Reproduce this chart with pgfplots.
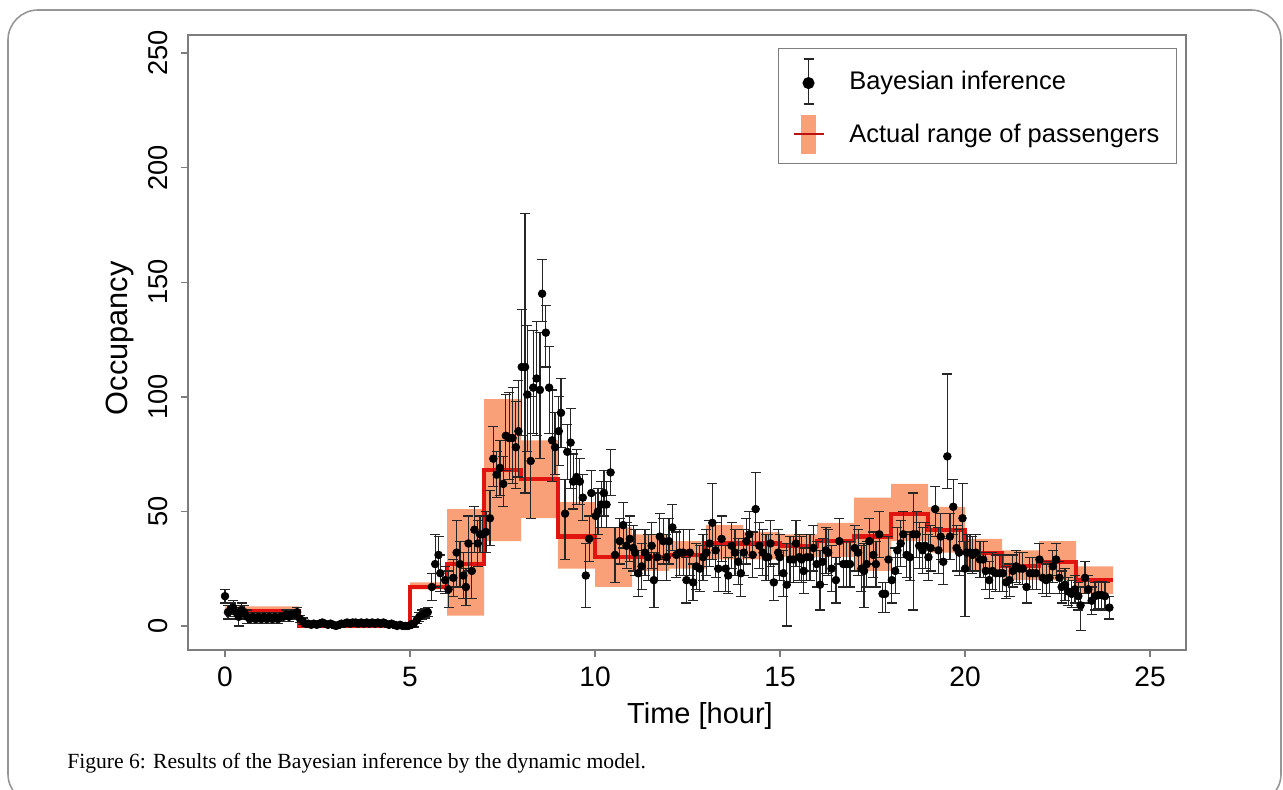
\documentclass[border=0pt]{standalone}
\usepackage{pgfplots}
\pgfplotsset{compat=1.18}
\usepackage{pgfplotstable}
\usepackage{fontspec}
\setmainfont{Liberation Sans}
\newfontfamily\capfont{Liberation Serif}
\definecolor{band}{RGB}{249,160,120}
\definecolor{stepred}{RGB}{225,20,15}
\definecolor{framegray}{RGB}{150,150,150}
\definecolor{boxgray}{RGB}{125,125,125}

\pgfplotstableread{
x y ep em
0.00 13 3 3
0.08 6 3 3
0.15 7 3 3
0.22 8 3 3
0.30 6 3 3
0.37 4 4 4
0.45 7 3 3
0.52 6 3 3
0.60 4 3 3
0.67 3 2 2
0.75 4 2 2
0.83 3 2 2
0.90 4 2 2
0.98 3 2 2
1.05 4 2 2
1.13 3 2 2
1.20 4 2 2
1.28 3 2 2
1.35 4 2 2
1.43 3 2 2
1.50 4 2 2
1.58 4 2 2
1.65 5 2 2
1.73 4 2 2
1.80 5 2 2
1.88 5 2 2
1.95 6 2 2
2.03 3 1.5 1.5
2.10 2 1.5 1.5
2.18 1 1 1
2.25 1 1 1
2.33 0.5 1 1
2.40 1 1 1
2.48 0.5 1 1
2.55 1 1 1
2.63 1.5 1 1
2.70 1 1 1
2.78 0.5 1 1
2.85 1 1 1
2.93 0.5 1 1
3.00 0 1 1
3.08 0.5 1 1
3.15 1 1 1
3.23 1 1 1
3.30 1.5 1 1
3.38 1 1 1
3.45 1.5 1 1
3.53 1.5 1 1
3.60 1 1 1
3.68 1.5 1 1
3.75 1 1 1
3.83 1.5 1 1
3.90 1 1 1
3.98 1.5 1 1
4.05 1 1 1
4.13 1.5 1 1
4.20 1 1 1
4.28 1.5 1 1
4.35 1 1 1
4.43 0.5 1 1
4.50 1 1 1
4.58 0.5 1 1
4.65 0 1 1
4.73 0.5 1 1
4.80 0 1 1
4.88 0 1 1
4.95 0 1 1
5.03 0.5 1 1
5.10 1 1.5 1.5
5.18 2.5 1.5 1.5
5.25 4 2 2
5.33 5 2 2
5.40 5.5 2 2
5.48 6 2 2
5.59 17 6 6
5.68 27 13 10
5.77 31 8 8
5.82 23 8 8
5.95 20 6 6
6.04 16 8 8
6.17 21 8 8
6.26 32 14 15
6.35 27 10 10
6.44 22 10 10
6.51 17 8 8
6.58 36 12 12
6.67 24 12 12
6.74 42 10 10
6.83 36 10 10
6.89 40 8 8
6.96 40 8 8
7.05 41 9 9
7.16 47 12 12
7.25 73 14 12
7.34 66 10 10
7.43 69 12 12
7.52 62 12 10
7.59 83 18 15
7.68 82 20 18
7.77 82 22 20
7.86 78 20 18
7.93 85 22 20
8.02 113 25 30
8.11 113 67 55
8.17 101 30 25
8.26 72 28 25
8.33 104 25 20
8.42 108 25 25
8.51 103 25 30
8.57 145 15 12
8.67 128 12 15
8.76 104 18 20
8.84 81 22 18
8.92 78 15 12
9.02 85 15 15
9.08 93 15 15
9.19 49 15 20
9.25 76 12 12
9.34 80 15 20
9.41 63 12 12
9.50 65 12 12
9.59 63 10 10
9.67 56 10 10
9.75 22 14 14
9.84 38 10 10
9.90 58 10 10
10.02 48 10 10
10.08 50 10 10
10.17 53 10 10
10.24 58 10 10
10.31 53 10 10
10.42 67 10 10
10.54 31 12 12
10.67 37 10 10
10.76 44 10 10
10.85 35 10 10
10.94 38 10 10
11.03 34 10 10
11.08 32 10 10
11.17 23 10 10
11.26 26 10 10
11.35 32 10 10
11.44 30 10 10
11.53 35 10 10
11.59 20 12 12
11.68 30 10 10
11.75 39 10 10
11.84 37 10 10
11.93 30 10 10
12.00 37 10 10
12.09 43 10 10
12.20 31 10 10
12.29 32 10 10
12.38 32 10 10
12.47 20 10 10
12.56 32 10 10
12.65 19 8 8
12.74 26 10 10
12.83 25 10 10
12.92 30 10 10
13.01 32 10 10
13.09 36 10 10
13.17 45 17 16
13.26 33 12 12
13.33 25 10 10
13.42 38 10 10
13.53 25 10 10
13.60 22 8 8
13.69 35 10 10
13.78 32 10 10
13.87 28 10 10
13.94 23 10 10
14.02 32 10 10
14.09 37 10 10
14.17 40 10 10
14.26 31 10 10
14.34 51 16 16
14.44 35 10 10
14.53 32 10 10
14.62 30 10 10
14.68 30 10 10
14.74 36 10 10
14.83 19 8 8
14.95 32 10 10
14.99 30 10 10
15.09 23 10 10
15.18 18 18 18
15.27 29 10 10
15.36 29 10 10
15.43 36 10 10
15.52 30 10 10
15.58 29 10 10
15.64 24 10 10
15.72 30 10 10
15.81 30 10 10
15.90 34 10 10
15.99 27 10 10
16.08 18 15 11
16.15 28 10 10
16.24 33 10 10
16.30 32 10 10
16.39 25 10 10
16.51 20 10 10
16.60 37 10 10
16.71 27 10 10
16.80 27 10 10
16.89 27 10 10
17.02 34 10 10
17.11 32 10 10
17.20 25 10 10
17.27 24 12 16
17.34 27 10 10
17.41 37 10 10
17.52 31 10 10
17.59 27 10 10
17.68 40 10 10
17.77 14 5 8
17.84 14 5 8
17.93 29 10 10
18.02 20 10 10
18.11 24 10 10
18.17 33 10 10
18.26 36 10 10
18.33 40 10 10
18.42 31 10 10
18.51 30 10 10
18.60 40 18 33
18.69 40 10 10
18.76 35 10 10
18.85 33 10 10
18.92 35 10 10
19.01 30 10 10
19.07 34 10 10
19.19 51 10 12
19.28 33 10 10
19.34 39 10 10
19.41 28 10 10
19.52 74 36 14
19.59 39 10 10
19.68 52 12 12
19.77 34 10 10
19.84 32 10 10
19.93 47 15 10
20.00 25 12 21
20.05 32 8 8
20.13 32 8 8
20.20 31 8 8
20.29 32 8 8
20.40 29 8 8
20.49 29 8 8
20.56 24 8 8
20.65 20 8 8
20.74 24 8 8
20.83 23 8 8
20.94 23 8 8
21.02 23 8 8
21.11 19 7 7
21.20 20 7 7
21.29 24 7 7
21.38 26 7 7
21.47 25 7 7
21.56 25 7 7
21.66 17 7 7
21.75 23 7 7
21.83 23 7 7
21.92 23 7 7
22.01 29 7 7
22.10 21 7 7
22.19 20 7 7
22.28 21 7 7
22.37 26 7 7
22.46 29 7 7
22.55 21 7 7
22.61 17 7 7
22.70 18 7 7
22.79 15 6 6
22.88 14 6 6
22.97 16 6 6
23.06 13 6 6
23.12 9 8 11
23.24 21 7 7
23.33 16 6 6
23.42 11 6 6
23.51 13 6 6
23.60 13.5 6 6
23.69 13.5 6 6
23.78 13 6 6
23.90 8 5 5
}\bayes

\begin{document}
\begin{tikzpicture}
\path[use as bounding box] (0,0) rectangle (25.66,15.78);
\draw[framegray, line width=0.9pt, rounded corners=0.6cm] (0.16,-0.3) rectangle (25.62,15.58);
\begin{axis}[
  at={(3.76cm,2.78cm)}, anchor=south west,
  width=19.96cm, height=12.3cm, scale only axis,
  xmin=-1.0, xmax=25.97, ymin=-10.5, ymax=257.9,
  xtick={0,5,10,15,20,25}, ytick={0,50,100,150,200,250},
  xtick pos=bottom, ytick pos=left,
  tick align=outside, major tick length=0.14cm,
  axis line style={boxgray, line width=0.8pt},
  tick style={boxgray, line width=0.8pt},
  /pgf/number format/assume math mode=true,
  xticklabel style={font=\fontsize{16}{19}\selectfont, anchor=north, inner sep=0pt},
  xticklabel shift=0.2cm,
  yticklabel style={font=\fontsize{15.5}{18}\selectfont, rotate=90, anchor=south, inner sep=0pt},
  yticklabel shift=0.26cm,
  xlabel={Time [hour]},
  ylabel={Occupancy},
  xlabel style={font=\fontsize{16.5}{19}\selectfont, at={(axis description cs:0.513,-0.107)}, anchor=center},
  ylabel style={font=\fontsize{17.5}{20}\selectfont, at={(axis description cs:-0.068,0.507)}, anchor=center, rotate=0},
  legend style={at={(0.991,0.979)}, anchor=north east, draw=boxgray, line width=0.6pt,
    font=\fontsize{14.5}{17}\selectfont, inner xsep=0.27cm, inner ysep=0.2cm,
    row sep=0.2cm, column sep=0.42cm},
  legend cell align=left,
  clip=true,
]
% actual range band
\addplot[fill=band, draw=none, forget plot] coordinates {
(0,8.5)(2,8.5)(2,1.5)(5,1.5)(5,19)(6,19)(6,51)(7,51)(7,99)(8,99)(8,81)(9,81)(9,54)(10,54)(10,43)(11,43)(11,40)(12,40)(12,37)(13,37)(13,44)(14,44)(14,41)(15,41)(15,40)(16,40)(16,45)(17,45)(17,56)(18,56)(18,62)(19,62)(19,52)(20,52)(20,38)(21,38)(21,33)(22,33)(22,37)(23,37)(23,26)(24,26)
(24,14)(23,14)(23,20)(22,20)(21,20)(21,24)(20,24)(20,32)(19,32)(19,37)(18,37)(18,24)(17,24)(17,30)(16,30)(15,30)(15,29)(14,29)(13,29)(13,25)(12,25)(12,24)(11,24)(11,17)(10,17)(10,25)(9,25)(9,47)(8,47)(8,37)(7,37)(7,4.5)(6,4.5)(6,16)(5,16)(5,-1)(2,-1)(2,5)(0,5)
};
% actual step line
\addplot[const plot, stepred, line width=2.4pt, forget plot] coordinates {
(0,6.5)(2,0)(5,17)(6,27)(7,68)(8,64)(9,39)(10,30)(11,30)(12,31)(13,36)(14,36)(15,35)(16,37)(17,39)(18,49)(19,42)(20,32)(21,26)(22,28)(23,20)(24,20)
};
% Bayesian inference
\addplot[only marks, mark=*, mark size=2.2pt, black,
  legend image code/.code={
    \draw[black!85, line width=0.7pt] (0.3cm,-0.45cm) -- (0.3cm,0.45cm);
    \draw[black!85, line width=0.7pt] (0.2cm,-0.45cm) -- (0.4cm,-0.45cm);
    \draw[black!85, line width=0.7pt] (0.2cm,0.45cm) -- (0.4cm,0.45cm);
    \fill[black] (0.3cm,-0.03cm) circle (0.11cm);
  },
  error bars/.cd, y dir=both, y explicit,
  error bar style={line width=0.7pt, black!85},
  error mark options={rotate=90, mark size=0.1cm, line width=0.7pt, black!85},
  ] table[x=x, y=y, y error plus=ep, y error minus=em] {\bayes};
\addlegendentry{Bayesian inference}
\addlegendimage{legend image code/.code={
  \fill[band] (0.17cm,-0.38cm) rectangle (0.43cm,0.38cm);
  \draw[stepred!85!black, line width=1.4pt] (0cm,0cm) -- (0.6cm,0cm);
}}
\addlegendentry{Actual range of passengers}
\end{axis}
\node[anchor=west, inner sep=0pt, font=\capfont\fontsize{12.3}{15}\selectfont] at (1.34,0.52) {Figure 6: Results of the Bayesian inference by the dynamic model.};
\end{tikzpicture}
\end{document}
